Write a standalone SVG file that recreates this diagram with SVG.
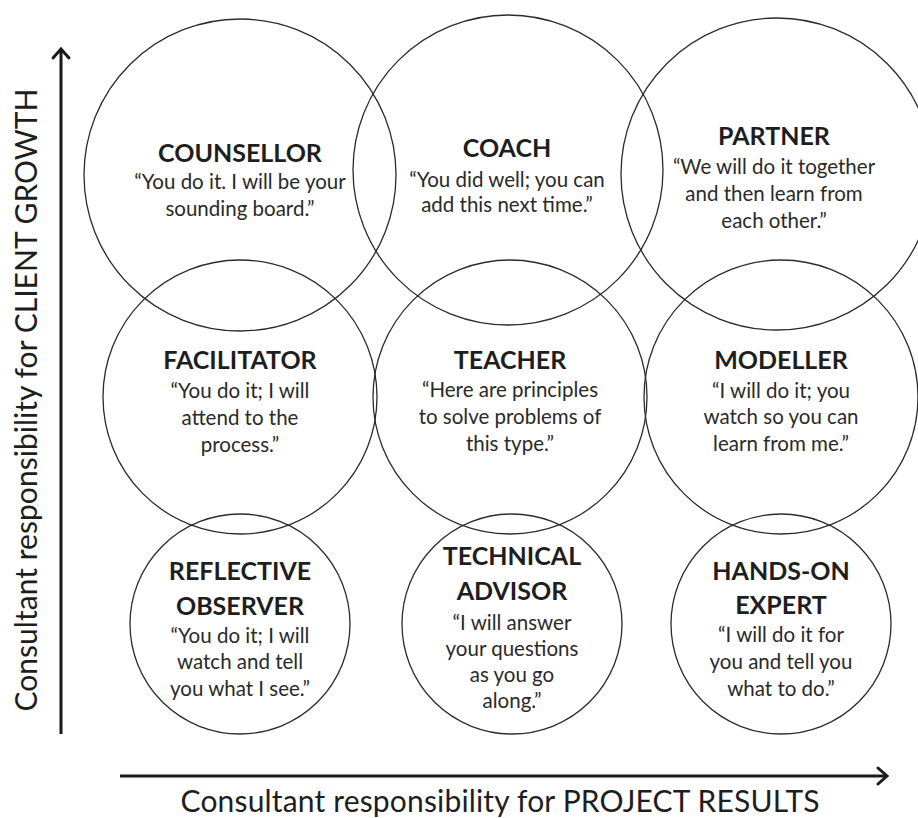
<svg xmlns="http://www.w3.org/2000/svg" width="918" height="818" viewBox="0 0 918 818">
<style>
.c{fill:none;stroke:#2b2b2b;stroke-width:1.3}
.t{font-family:Lato,"Open Sans","DejaVu Sans",sans-serif;font-weight:700;font-size:25px;fill:#1e1e1e;text-anchor:middle}
.q{font-family:Lato,"Open Sans","DejaVu Sans",sans-serif;font-size:20.5px;fill:#2a2a2a;text-anchor:middle}
.ax{font-family:Lato,"Open Sans","DejaVu Sans",sans-serif;font-size:30px;fill:#1e1e1e;text-anchor:middle}
.arr{fill:none;stroke:#1a1a1a;stroke-width:3;marker-end:url(#head)}
</style>
<defs>
<marker id="head" markerUnits="userSpaceOnUse" markerWidth="24" markerHeight="24" refX="12" refY="12" orient="auto">
<path d="M3 4 L12 12 L3 20" fill="none" stroke="#1a1a1a" stroke-width="3" stroke-linecap="round" stroke-linejoin="miter"/>
</marker>
</defs>
<rect width="918" height="818" fill="#fff"/>
<g id="connectors">
<path class="arr" d="M61 734 L61 49"/>
<path class="arr" d="M120 776 L887 776"/>
</g>
<g id="counsellor">
<circle class="c" cx="240" cy="175" r="156"/>
<text class="t" x="240" y="162">COUNSELLOR</text>
<text class="q" x="240" y="189">“You do it. I will be your</text>
<text class="q" x="240" y="216">sounding board.”</text>
</g>
<g id="coach">
<circle class="c" cx="508" cy="170" r="155"/>
<text class="t" x="507" y="157">COACH</text>
<text class="q" x="507" y="187">“You did well; you can</text>
<text class="q" x="507" y="212">add this next time.”</text>
</g>
<g id="partner">
<circle class="c" cx="777" cy="174" r="156"/>
<text class="t" x="774" y="145">PARTNER</text>
<text class="q" x="774" y="174">“We will do it together</text>
<text class="q" x="774" y="201">and then learn from</text>
<text class="q" x="774" y="228">each other.”</text>
</g>
<g id="facilitator">
<circle class="c" cx="240" cy="397" r="137"/>
<text class="t" x="240" y="369">FACILITATOR</text>
<text class="q" x="240" y="398">“You do it; I will</text>
<text class="q" x="240" y="425">attend to the</text>
<text class="q" x="240" y="452">process.”</text>
</g>
<g id="teacher">
<circle class="c" cx="510" cy="397" r="137"/>
<text class="t" x="510" y="369">TEACHER</text>
<text class="q" x="510" y="397">“Here are principles</text>
<text class="q" x="510" y="424">to solve problems of</text>
<text class="q" x="510" y="451">this type.”</text>
</g>
<g id="modeller">
<circle class="c" cx="781" cy="397" r="137"/>
<text class="t" x="781" y="369">MODELLER</text>
<text class="q" x="781" y="398">“I will do it; you</text>
<text class="q" x="781" y="424">watch so you can</text>
<text class="q" x="781" y="451">learn from me.”</text>
</g>
<g id="reflective-observer">
<circle class="c" cx="240" cy="624" r="110"/>
<text class="t" x="240" y="580">REFLECTIVE</text>
<text class="t" x="240" y="615">OBSERVER</text>
<text class="q" x="240" y="643">“You do it; I will</text>
<text class="q" x="240" y="669">watch and tell</text>
<text class="q" x="240" y="696">you what I see.”</text>
</g>
<g id="technical-advisor">
<circle class="c" cx="512" cy="624" r="110"/>
<text class="t" x="512" y="565">TECHNICAL</text>
<text class="t" x="512" y="600">ADVISOR</text>
<text class="q" x="512" y="630">“I will answer</text>
<text class="q" x="512" y="656">your questions</text>
<text class="q" x="512" y="682">as you go</text>
<text class="q" x="512" y="708">along.”</text>
</g>
<g id="hands-on-expert">
<circle class="c" cx="781" cy="624" r="110"/>
<text class="t" x="781" y="580">HANDS-ON</text>
<text class="t" x="781" y="614">EXPERT</text>
<text class="q" x="781" y="642">“I will do it for</text>
<text class="q" x="781" y="669">you and tell you</text>
<text class="q" x="781" y="696">what to do.”</text>
</g>
<g id="axis-labels">
<text class="ax" transform="translate(37,400) rotate(-90)" textLength="623" lengthAdjust="spacing">Consultant responsibility for CLIENT GROWTH</text>
<text class="ax" x="500" y="812" textLength="639" lengthAdjust="spacing">Consultant responsibility for PROJECT RESULTS</text>
</g>
</svg>
